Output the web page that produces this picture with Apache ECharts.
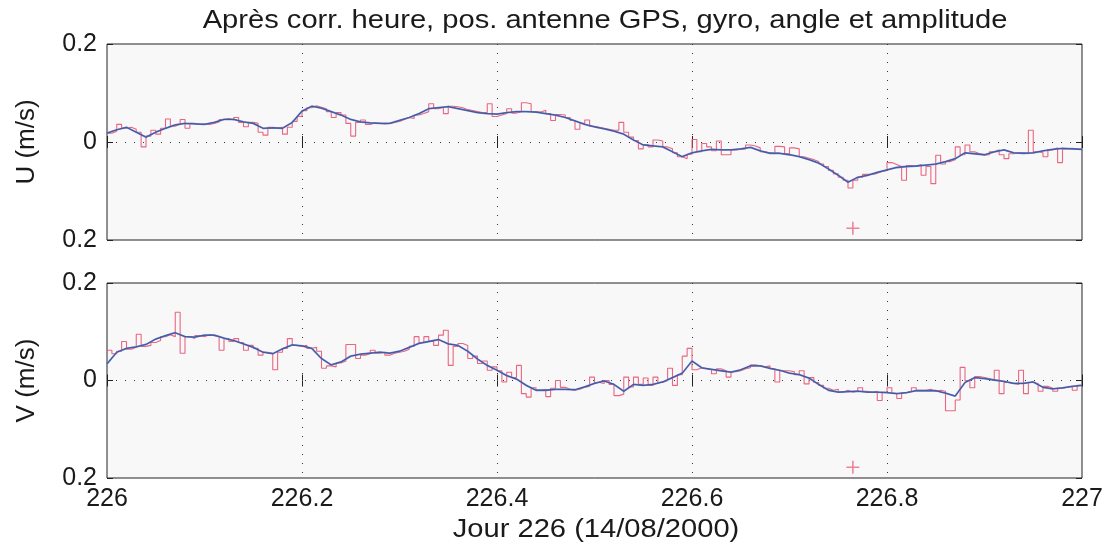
<!DOCTYPE html>
<html>
<head>
<meta charset="utf-8">
<script src="https://cdn.jsdelivr.net/npm/echarts@6/dist/echarts.min.js"></script>
<style>
  html, body { margin: 0; padding: 0; background: #ffffff; }
  #chart { width: 1111px; height: 550px; }
</style>
</head>
<body>
<div id="chart"></div>
<script>
// Day axis: 226.0 .. 227.0
const DAY_START = 226;
const DAY_END = 227;
const RAW_STEP = 0.005;     // width of one raw (stair) sample, days
const SMOOTH_STEP = 0.01;   // spacing of the filtered curve, days
const dayTicks = [226, 226.2, 226.4, 226.6, 226.8, 227];

// U component (m/s): raw stair samples
const rawU = [
  0.018, 0.022, 0.036, 0.028, 0.030, 0.026, 0.020, -0.010, 0.012, 0.024,
  0.016, 0.028, 0.047, 0.032, 0.036, 0.046, 0.028, 0.038, 0.036, 0.037,
  0.036, 0.038, 0.041, 0.046, 0.048, 0.045, 0.050, 0.040, 0.031, 0.040,
  0.038, 0.020, 0.014, 0.030, 0.029, 0.030, 0.016, 0.030, 0.042, 0.052,
  0.064, 0.070, 0.074, 0.071, 0.068, 0.062, 0.050, 0.060, 0.055, 0.038,
  0.012, 0.040, 0.045, 0.036, 0.039, 0.038, 0.037, 0.038, 0.040, 0.042,
  0.046, 0.050, 0.048, 0.055, 0.058, 0.062, 0.078, 0.068, 0.071, 0.058,
  0.073, 0.072, 0.070, 0.066, 0.064, 0.062, 0.060, 0.060, 0.078, 0.052,
  0.055, 0.058, 0.068, 0.059, 0.062, 0.080, 0.078, 0.062, 0.061, 0.065,
  0.058, 0.044, 0.056, 0.055, 0.050, 0.044, 0.026, 0.038, 0.045, 0.032,
  0.030, 0.028, 0.026, 0.024, 0.024, 0.040, 0.020, 0.010, 0.003, -0.014,
  -0.005, -0.010, 0.004, 0.002, -0.010, -0.014, -0.022, -0.030, -0.034, -0.025,
  0.005, -0.020, -0.003, -0.010, -0.018, 0.002, -0.026, -0.026, -0.016, -0.015,
  -0.014, -0.006, -0.008, -0.012, -0.020, -0.022, -0.024, -0.009, -0.010, -0.024,
  -0.012, -0.014, -0.030, -0.033, -0.036, -0.040, -0.045, -0.050, -0.058, -0.065,
  -0.072, -0.078, -0.094, -0.078, -0.072, -0.066, -0.066, -0.064, -0.060, -0.058,
  -0.042, -0.046, -0.050, -0.078, -0.048, -0.050, -0.046, -0.068, -0.050, -0.085,
  -0.027, -0.045, -0.040, -0.036, -0.010, -0.026, -0.006, -0.020, -0.024, -0.027,
  -0.026, -0.020, -0.016, -0.026, -0.034, -0.024, -0.022, -0.022, -0.024, 0.024,
  -0.020, -0.022, -0.030, -0.016, -0.012, -0.042, -0.014, -0.013, -0.014, -0.015
];

// U component (m/s): filtered curve
const smoothU = [
  0.018, 0.025, 0.030, 0.020, 0.010, 0.020, 0.028, 0.035, 0.038, 0.037,
  0.036, 0.040, 0.046, 0.046, 0.041, 0.038, 0.028, 0.029, 0.028, 0.040,
  0.063, 0.073, 0.069, 0.062, 0.055, 0.046, 0.041, 0.039, 0.038, 0.038,
  0.044, 0.050, 0.058, 0.068, 0.070, 0.072, 0.068, 0.064, 0.060, 0.058,
  0.057, 0.060, 0.062, 0.062, 0.061, 0.058, 0.055, 0.050, 0.043, 0.036,
  0.031, 0.027, 0.022, 0.016, 0.004, -0.006, -0.008, -0.010, -0.020, -0.030,
  -0.022, -0.018, -0.015, -0.016, -0.016, -0.014, -0.011, -0.018, -0.023, -0.023,
  -0.026, -0.030, -0.036, -0.043, -0.055, -0.068, -0.082, -0.072, -0.068, -0.062,
  -0.057, -0.052, -0.050, -0.049, -0.047, -0.045, -0.040, -0.034, -0.022, -0.024,
  -0.026, -0.020, -0.016, -0.022, -0.023, -0.022, -0.018, -0.015, -0.013, -0.014,
  -0.015
];

// V component (m/s): raw stair samples
const rawV = [
  0.062, 0.055, 0.060, 0.080, 0.064, 0.068, 0.095, 0.070, 0.072, 0.078,
  0.082, 0.090, 0.094, 0.090, 0.140, 0.056, 0.090, 0.086, 0.092, 0.090,
  0.094, 0.092, 0.090, 0.062, 0.086, 0.080, 0.086, 0.078, 0.062, 0.072,
  0.066, 0.052, 0.058, 0.056, 0.022, 0.058, 0.066, 0.086, 0.072, 0.070,
  0.072, 0.066, 0.068, 0.060, 0.025, 0.030, 0.028, 0.036, 0.040, 0.074,
  0.074, 0.045, 0.052, 0.055, 0.062, 0.056, 0.058, 0.052, 0.056, 0.058,
  0.060, 0.064, 0.070, 0.090, 0.078, 0.090, 0.080, 0.072, 0.093, 0.103,
  0.031, 0.070, 0.076, 0.072, 0.045, 0.050, 0.035, 0.040, 0.021, 0.028,
  0.020, -0.003, 0.017, 0.006, 0.031, -0.027, -0.034, -0.015, -0.020, -0.018,
  -0.033, -0.016, 0.000, -0.014, -0.018, -0.020, -0.018, -0.014, -0.012, 0.007,
  -0.004, -0.006, 0.000, -0.008, -0.031, -0.028, 0.007, -0.013, 0.007, -0.008,
  0.005, -0.010, 0.007, -0.004, 0.000, 0.025, -0.010, 0.012, 0.050, 0.066,
  0.022, 0.026, 0.024, 0.022, 0.014, 0.024, 0.020, 0.007, 0.018, 0.020,
  0.024, 0.026, 0.032, 0.030, 0.028, 0.030, 0.024, -0.003, 0.020, 0.020,
  0.018, 0.012, 0.020, -0.007, 0.006, -0.004, -0.010, -0.016, -0.020, -0.018,
  -0.024, -0.020, -0.024, -0.022, -0.015, -0.022, -0.024, -0.022, -0.041, -0.024,
  -0.015, -0.026, -0.037, -0.025, -0.022, -0.015, -0.020, -0.020, -0.018, -0.022,
  -0.020, -0.022, -0.062, -0.062, -0.040, 0.027, 0.000, -0.015, 0.008, 0.006,
  0.004, 0.000, 0.021, -0.027, -0.004, -0.006, -0.008, 0.021, -0.027, -0.004,
  -0.006, -0.022, -0.012, -0.016, -0.022, -0.016, -0.014, -0.012, -0.020, -0.010
];

// V component (m/s): filtered curve
const smoothV = [
  0.034, 0.058, 0.066, 0.069, 0.074, 0.085, 0.092, 0.098, 0.090, 0.089,
  0.093, 0.093, 0.087, 0.082, 0.075, 0.068, 0.058, 0.055, 0.065, 0.073,
  0.071, 0.066, 0.045, 0.032, 0.038, 0.050, 0.054, 0.056, 0.058, 0.056,
  0.060, 0.068, 0.076, 0.080, 0.084, 0.075, 0.072, 0.060, 0.044, 0.031,
  0.021, 0.010, 0.003, -0.010, -0.020, -0.020, -0.018, -0.018, -0.019, -0.013,
  -0.006, -0.001, -0.008, -0.022, -0.008, -0.010, -0.008, -0.003, 0.006, 0.015,
  0.040, 0.026, 0.023, 0.020, 0.017, 0.022, 0.030, 0.030, 0.025, 0.021,
  0.015, 0.012, 0.005, -0.008, -0.020, -0.024, -0.023, -0.022, -0.024, -0.024,
  -0.025, -0.027, -0.025, -0.021, -0.021, -0.021, -0.026, -0.032, -0.004, 0.006,
  0.004, 0.001, -0.002, -0.006, -0.006, -0.003, -0.014, -0.017, -0.015, -0.012,
  -0.010
];

// Isolated flagged samples (red crosses)
const flagDay = [226.765];
const flagU = [-0.176];
const flagV = [-0.178];

const FONT = '"Liberation Sans", Arial, Helvetica, sans-serif';
const TEXT = '#1a1a1a';
const FRAME = '#222222';
const RAW_COLOR = '#ea6680';
const SMOOTH_COLOR = '#5b78cc';
const DARK_COLOR = '#27294a';

function stairs(values) {
  const pts = values.map((v, i) => [DAY_START + i * RAW_STEP, v]);
  pts.push([DAY_END, values[values.length - 1]]);
  return pts;
}
function curve(values) {
  return values.map((v, i) => [DAY_START + i * SMOOTH_STEP, v]);
}
function dayLabel(v) {
  const s = v.toFixed(1);
  return s.endsWith('.0') ? s.slice(0, -2) : s;
}
function speedLabel(v) {
  const a = Math.abs(v);
  return a < 1e-9 ? '0' : a.toFixed(1);
}

const plots = [
  { top: 44, height: 196, name: 'U (m/s)', raw: rawU, smooth: smoothU, flag: flagU },
  { top: 283, height: 195, name: 'V (m/s)', raw: rawV, smooth: smoothV, flag: flagV }
];

const grid = plots.map(p => ({
  left: 107, right: 29, top: p.top, height: p.height,
  show: true, backgroundColor: '#f8f8f8', borderColor: FRAME, borderWidth: 1
}));

const dottedGrid = { show: true, showMinLine: false, showMaxLine: false,
  lineStyle: { type: [1, 8], color: '#333', width: 1 } };
const inTick = { show: true, inside: true, length: 6, lineStyle: { color: FRAME, width: 1 } };

const xAxis = [];
const yAxis = [];
plots.forEach((p, g) => {
  const last = g === plots.length - 1;
  xAxis.push({
    type: 'value', gridIndex: g, min: DAY_START, max: DAY_END, interval: 0.2,
    position: 'bottom',
    axisLine: { show: false }, axisTick: inTick, splitLine: dottedGrid,
    axisLabel: last ? { show: true, formatter: dayLabel, margin: 9,
      fontFamily: FONT, fontSize: 25, color: TEXT } : { show: false }
  });
  yAxis.push({
    type: 'value', gridIndex: g, min: -0.2, max: 0.2, interval: 0.2,
    position: 'left',
    axisLine: { show: false }, axisTick: inTick, splitLine: dottedGrid,
    axisLabel: { formatter: speedLabel, margin: 10, padding: [5, 0, 0, 0],
      fontFamily: FONT, fontSize: 25, color: TEXT },
    name: p.name, nameLocation: 'middle', nameGap: 67,
    nameTextStyle: { fontFamily: FONT, fontSize: 26, color: TEXT }
  });
});
// ticks on the top and right edges of each frame
plots.forEach((p, g) => {
  xAxis.push({
    type: 'value', gridIndex: g, min: DAY_START, max: DAY_END, interval: 0.2,
    position: 'top', axisLine: { show: false }, axisTick: inTick,
    axisLabel: { show: false }, splitLine: { show: false }
  });
  yAxis.push({
    type: 'value', gridIndex: g, min: -0.2, max: 0.2, interval: 0.2,
    position: 'right', axisLine: { show: false }, axisTick: inTick,
    axisLabel: { show: false }, splitLine: { show: false }
  });
});

const plus = 'path://M4.4,0H5.6V4.4H10V5.6H5.6V10H4.4V5.6H0V4.4H4.4Z';
const series = [];
plots.forEach((p, g) => {
  series.push({
    type: 'line', xAxisIndex: g, yAxisIndex: g, step: 'end',
    data: stairs(p.raw), showSymbol: false, silent: true, z: 3,
    lineStyle: { color: RAW_COLOR, width: 1.1 }
  });
  series.push({
    type: 'line', xAxisIndex: g, yAxisIndex: g,
    data: curve(p.smooth), showSymbol: false, silent: true, z: 4,
    lineStyle: { color: SMOOTH_COLOR, width: 1.8 }
  });
  series.push({
    type: 'line', xAxisIndex: g, yAxisIndex: g,
    data: curve(p.smooth), showSymbol: false, silent: true, z: 5,
    lineStyle: { color: DARK_COLOR, width: 0.8, opacity: 0.55 }
  });
  series.push({
    type: 'scatter', xAxisIndex: g, yAxisIndex: g,
    data: flagDay.map((d, i) => [d, p.flag[i]]),
    symbol: plus, symbolSize: 13, silent: true, z: 6,
    itemStyle: { color: RAW_COLOR }
  });
});

// Title and day-axis caption, set in a slightly widened Helvetica-like face
function caption(text, x, y) {
  return {
    type: 'text', x: x, y: y, scaleX: 1.165, silent: true, z: 10,
    style: { text: text, fontFamily: FONT, fontSize: 25, fill: TEXT,
      align: 'center', verticalAlign: 'middle' }
  };
}

const chart = echarts.init(document.getElementById('chart'), null, { renderer: 'canvas' });
chart.setOption({
  backgroundColor: '#ffffff',
  animation: false,
  grid, xAxis, yAxis, series,
  graphic: [
    caption('Après corr. heure, pos. antenne GPS, gyro, angle et amplitude', 605, 21),
    caption('Jour 226 (14/08/2000)', 596, 530)
  ]
});
</script>
</body>
</html>
